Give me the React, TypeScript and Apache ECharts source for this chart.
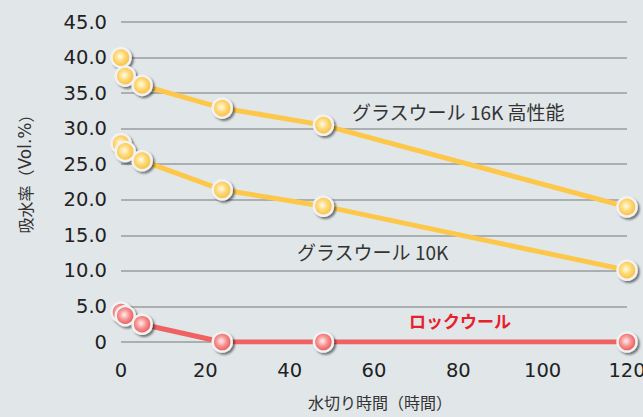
import React, { useEffect, useRef } from "react";
import * as echarts from "echarts";

const hoursGW16 = [0, 1, 5, 24, 48, 120];
const valuesGW16 = [40.0, 37.4, 36.1, 32.9, 30.5, 19.0];
const hoursGW10 = [0, 1, 5, 24, 48, 120];
const valuesGW10 = [27.9, 26.8, 25.5, 21.4, 19.1, 10.1];
const hoursRW = [0, 1, 5, 24, 48, 120];
const valuesRW = [4.2, 3.7, 2.5, 0, 0, 0];

const pair = (xs: number[], ys: number[]) => xs.map((x, i) => [x, ys[i]]);

const numFont = '"DejaVu Sans", sans-serif';
const jpFont = '"Noto Sans CJK JP", sans-serif';

const yellowMarker = new echarts.graphic.RadialGradient(0.45, 0.45, 0.6, [
  { offset: 0, color: "#fffbe8" },
  { offset: 0.45, color: "#ffd977" },
  { offset: 1, color: "#f7b731" },
]);
const redMarker = new echarts.graphic.RadialGradient(0.45, 0.45, 0.6, [
  { offset: 0, color: "#fff0f0" },
  { offset: 0.45, color: "#f79393" },
  { offset: 1, color: "#e84848" },
]);

const markerStyle = (fill: any) => ({
  color: fill,
  borderColor: "#f2f2f2",
  borderWidth: 2.5,
  shadowColor: "rgba(0,0,0,0.5)",
  shadowBlur: 2,
  shadowOffsetX: 2,
  shadowOffsetY: 2,
});

export default function App() {
  const ref = useRef<HTMLDivElement>(null);
  useEffect(() => {
    const chart = echarts.init(ref.current!, null, { renderer: "svg" });
    chart.setOption({
      animation: false,
      backgroundColor: "#e1e6e9",
      grid: { left: 121, right: 16, top: 22, bottom: 75, outerBoundsMode: "none", containLabel: false },
      xAxis: {
        type: "value",
        min: 0,
        max: 120,
        interval: 20,
        axisLine: { show: false },
        axisTick: { show: false },
        splitLine: { show: false },
        axisLabel: { color: "#222", fontSize: 19.5, margin: 18, fontFamily: numFont },
        name: "水切り時間（時間）",
        nameLocation: "middle",
        nameGap: 52,
        nameTextStyle: { color: "#333", fontSize: 16, fontFamily: jpFont, padding: [0, 0, 0, 12] },
      },
      yAxis: {
        type: "value",
        min: 0,
        max: 45,
        interval: 5,
        axisLine: { show: false },
        axisTick: { show: false },
        splitLine: { show: true, lineStyle: { color: "#9a9c9e", width: 1.5 } },
        axisLabel: {
          color: "#222",
          fontSize: 19.5,
          margin: 14,
          fontFamily: numFont,
          formatter: (v: number) => (v === 0 ? "0" : v.toFixed(1)),
        },
        name: "{a|吸水率（}{b|Vol.%}{a|）}",
        nameLocation: "middle",
        nameGap: 88,
        nameRotate: 90,
        nameTextStyle: {
          color: "#333",
          fontSize: 16,
          fontFamily: jpFont,
          padding: [0, 0, 0, 24],
          rich: {
            a: { fontSize: 16, fontFamily: jpFont, color: "#333" },
            b: { fontSize: 17, fontFamily: numFont, color: "#333" },
          },
        },
      },
      series: [
        {
          type: "line",
          data: pair(hoursGW16, valuesGW16),
          symbol: "circle",
          symbolSize: 19,
          lineStyle: { color: "#fdc84a", width: 5 },
          itemStyle: markerStyle(yellowMarker),
        },
        {
          type: "line",
          data: pair(hoursGW10, valuesGW10),
          symbol: "circle",
          symbolSize: 19,
          lineStyle: { color: "#fdc84a", width: 5 },
          itemStyle: markerStyle(yellowMarker),
        },
        {
          type: "line",
          data: pair(hoursRW, valuesRW),
          symbol: "circle",
          symbolSize: 19,
          lineStyle: { color: "#f06262", width: 5 },
          itemStyle: markerStyle(redMarker),
        },
      ],
      graphic: [
        {
          type: "text",
          x: 352,
          y: 111,
          style: { text: "グラスウール 16K 高性能", fill: "#333", fontSize: 19, fontFamily: jpFont, verticalAlign: "middle" },
        },
        {
          type: "text",
          x: 297,
          y: 251,
          style: { text: "グラスウール 10K", fill: "#333", fontSize: 19, fontFamily: jpFont, verticalAlign: "middle" },
        },
        {
          type: "text",
          x: 409,
          y: 320,
          style: { text: "ロックウール", fill: "#e8202a", fontSize: 17, fontWeight: "bold", fontFamily: jpFont, verticalAlign: "middle" },
        },
      ],
    });
    return () => chart.dispose();
  }, []);
  return <div ref={ref} style={{ width: 643, height: 417, position: "fixed", left: 0, top: 0 }} />;
}
